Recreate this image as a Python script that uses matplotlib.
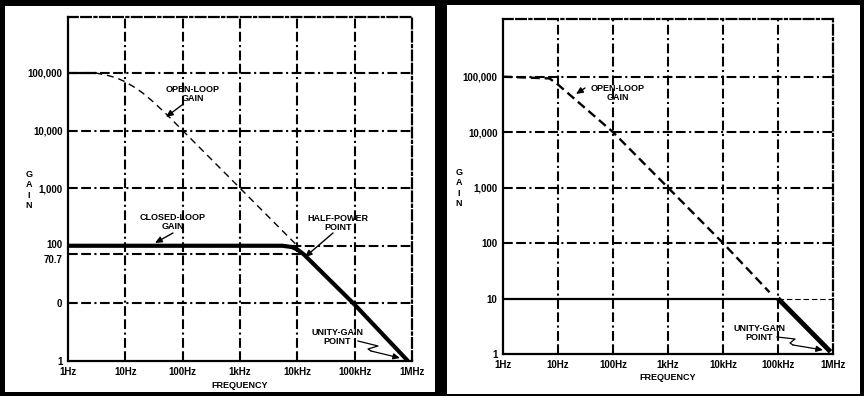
import matplotlib.pyplot as plt
import matplotlib.transforms as mtransforms
from matplotlib.patches import Rectangle, FancyArrowPatch
from matplotlib.ticker import NullLocator

plt.rcParams['font.family'] = ['Liberation Sans', 'DejaVu Sans']
plt.rcParams['font.weight'] = 'bold'
plt.rcParams['lines.scale_dashes'] = False

# x axis, shared by both charts
freq_ticks = [1, 10, 100, 1e3, 1e4, 1e5, 1e6]
freq_labels = ['1Hz', '10Hz', '100Hz', '1kHz', '10kHz', '100kHz', '1MHz']

# left chart: closed-loop gain of 100
gain_ticks_l = [1, 10, 70.7, 100, 1e3, 1e4, 1e5]
gain_labels_l = ['1', '0', '70.7', '100', '1,000', '10,000', '100,000']
open_f_l = [1, 3, 5, 7, 10, 15, 20, 30, 50, 100, 1000, 10000]
open_g_l = [1e5, 1e5, 9e4, 8.2e4, 7e4, 5.5e4, 4.5e4, 3.2e4, 2e4, 1e4, 1e3, 100]
closed_f_l = [1, 5500, 8000, 10000, 13000, 100000, 850000]
closed_g_l = [100, 100, 95, 86, 70.7, 9.5, 1]
half_power = 70.7

# right chart: closed-loop gain of 10
gain_ticks_r = [1, 10, 100, 1e3, 1e4, 1e5]
gain_labels_r = ['1', '10', '100', '1,000', '10,000', '100,000']
open_f_r = [1, 7, 10, 100, 1000, 10000, 70000]
open_g_r = [1e5, 9.3e4, 7.2e4, 1e4, 1e3, 100, 13]
closed_f_r = [1, 1e5, 9e5]
closed_g_r = [10, 10, 1.1]

W, H = 864, 396
fig = plt.figure(figsize=(W / 100, H / 100), dpi=100, facecolor='black')


def px(x, y):
    # picture pixels -> figure fraction
    return (x / W, 1 - y / H)


GRID = (0, (7, 2.5, 7, 2.5, 1.5, 2.5))
FS = 6.5
TFS = 7.0


def panel(x0, y0, x1, y1):
    fig.patches.append(Rectangle(px(x0, y1), (x1 - x0) / W, (y1 - y0) / H,
                                 transform=fig.transFigure, facecolor='white',
                                 edgecolor='none', zorder=-5))


def setup_axes(box, ytop, yticks, ylabels, gridvals):
    x0, y0, x1, y1 = box
    ax = fig.add_axes([x0 / W, 1 - y1 / H, (x1 - x0) / W, (y1 - y0) / H])
    ax.set_facecolor('white')
    ax.set_xscale('log')
    ax.set_yscale('log')
    ax.set_xlim(1, 1e6)
    ax.set_ylim(1, ytop)
    ax.xaxis.set_minor_locator(NullLocator())
    ax.yaxis.set_minor_locator(NullLocator())
    ax.set_xticks(freq_ticks)
    ax.set_xticklabels(freq_labels, fontsize=TFS, fontweight='bold')
    ax.set_yticks(yticks)
    ax.set_yticklabels(ylabels, fontsize=TFS, fontweight='bold')
    ax.tick_params(length=0, pad=4)
    for s in ['left', 'bottom']:
        ax.spines[s].set_linewidth(1.6)
    for s in ['top', 'right']:
        ax.spines[s].set_linewidth(1.6)
        ax.spines[s].set_linestyle(GRID)
    for f in freq_ticks[1:-1]:
        ax.axvline(f, color='black', lw=1.5, ls=GRID, zorder=1)
    for g in gridvals:
        ax.axhline(g, color='black', lw=1.5, ls=GRID, zorder=1)
    return ax


# ---- left chart ----
panel(5, 6, 435, 392)
axl = setup_axes((68, 17, 412, 361), 10 ** 5.97, gain_ticks_l, gain_labels_l,
                 [10, 100, 1e3, 1e4, 1e5])
# keep the 70.7 and 100 labels apart
for lab in axl.get_yticklabels():
    if lab.get_text() == '70.7':
        lab.set_transform(lab.get_transform() +
                          mtransforms.ScaledTranslation(0, -3 / 72, fig.dpi_scale_trans))
    if lab.get_text() == '100':
        lab.set_transform(lab.get_transform() +
                          mtransforms.ScaledTranslation(0, 1.5 / 72, fig.dpi_scale_trans))
axl.hlines(half_power, 1, 13000, color='black', lw=1.5, ls=GRID, zorder=1)
axl.plot(open_f_l[:2], open_g_l[:2], color='black', lw=1.6, zorder=3)
axl.plot(open_f_l[1:], open_g_l[1:], color='black', lw=1.0,
         ls=(0, (5, 3.5)), zorder=3)
axl.plot(closed_f_l, closed_g_l, color='black', lw=3.0, zorder=4,
         solid_capstyle='butt')

# ---- right chart ----
panel(447, 5, 860, 394)
axr = setup_axes((503, 19, 833, 354), 10 ** 6.04, gain_ticks_r, gain_labels_r,
                 [100, 1e3, 1e4, 1e5])
axr.hlines(10, 1e5, 1e6, color='black', lw=0.8, ls=(0, (4, 2)), zorder=1)
axr.plot(open_f_r, open_g_r, color='black', lw=1.7, ls=(0, (6.5, 3.5)), zorder=3)
axr.plot(closed_f_r[:2], closed_g_r[:2], color='black', lw=1.6, zorder=3)
axr.plot(closed_f_r[1:], closed_g_r[1:], color='black', lw=3.5, zorder=4,
         solid_capstyle='butt')

# axis titles
fig.text(*px(29, 190), 'G\nA\nI\nN', fontsize=FS, ha='center', va='center',
         linespacing=1.15)
fig.text(*px(459, 188), 'G\nA\nI\nN', fontsize=FS, ha='center', va='center',
         linespacing=1.15)
fig.text(*px(240, 385), 'FREQUENCY', fontsize=FS, ha='center', va='center')
fig.text(*px(668, 378), 'FREQUENCY', fontsize=FS, ha='center', va='center')

# callouts
labels = [
    ('OPEN-LOOP\nGAIN', (193, 94)),
    ('CLOSED-LOOP\nGAIN', (173, 222)),
    ('HALF-POWER\nPOINT', (338, 223)),
    ('UNITY-GAIN\nPOINT', (337, 337)),
    ('OPEN-LOOP\nGAIN', (618, 93)),
    ('UNITY-GAIN\nPOINT', (759, 333)),
]
for txt, (x, y) in labels:
    fig.text(*px(x, y), txt, fontsize=FS, ha='center', va='center',
             linespacing=1.1)

arrows = [
    ((182, 105), (166, 117)),
    ((173, 233), (155, 243)),
    ((333, 233), (305, 257)),
    ((585, 88), (576, 94)),
]
for (tx, ty), (hx, hy) in arrows:
    fig.add_artist(FancyArrowPatch(
        px(tx, ty), px(hx, hy), transform=fig.transFigure,
        arrowstyle='-|>,head_length=4,head_width=1.8', color='black',
        lw=1.0, shrinkA=0, shrinkB=0, zorder=10))

squiggles = [
    [(358, 341), (378, 346), (368, 349), (371, 351), (400, 358)],
    [(777, 337), (795, 339), (790, 343), (793, 345), (823, 350)],
]
for pts in squiggles:
    xs = [p[0] / W for p in pts[:-1]]
    ys = [1 - p[1] / H for p in pts[:-1]]
    fig.add_artist(plt.Line2D(xs, ys, transform=fig.transFigure,
                              color='black', lw=0.9, zorder=10))
    fig.add_artist(FancyArrowPatch(
        px(*pts[-2]), px(*pts[-1]), transform=fig.transFigure,
        arrowstyle='-|>,head_length=4,head_width=1.8', color='black',
        lw=0.9, shrinkA=0, shrinkB=0, zorder=10))

fig.savefig('out.png', dpi=100, facecolor='black')
